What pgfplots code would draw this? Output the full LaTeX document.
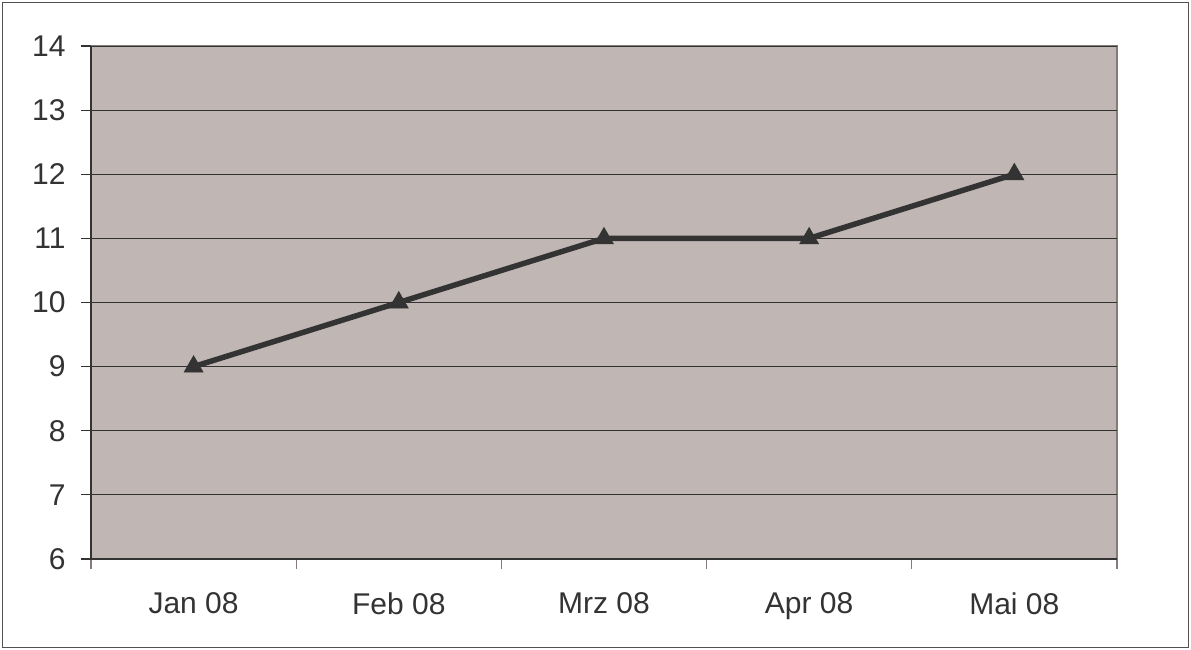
\documentclass[border=0pt]{standalone}
\usepackage{pgfplots}
\pgfplotsset{compat=1.18}
\usepackage{fontspec}
\setmainfont{Liberation Sans}
\definecolor{plotbg}{HTML}{C0B6B3}
\definecolor{bordergray}{HTML}{857B79}
\definecolor{darkline}{HTML}{333333}
\definecolor{txt}{HTML}{333333}
\begin{document}
\begin{tikzpicture}
\useasboundingbox (0,0) rectangle (1191pt,650pt);
\draw[line width=1.5pt, color=darkline!85] (2.5pt,2.5pt) rectangle (1188.5pt,647.5pt);
\begin{axis}[
  at={(91pt,91pt)}, anchor=south west,
  scale only axis, width=1026pt, height=513pt,
  xmin=0.5, xmax=5.5, ymin=6, ymax=14,
  axis background/.style={fill=plotbg, draw=bordergray, line width=1.5pt},
  axis x line*=bottom, axis y line*=left,
  axis line style={color=darkline, line width=1.2pt, -},
  xtick={1,2,3,4,5},
  xticklabels={Jan 08, Feb 08, Mrz 08, Apr 08, Mai 08},
  minor xtick={0.5,1.5,2.5,3.5,4.5,5.5},
  ytick={6,7,8,9,10,11,12,13,14},
  ymajorgrids, major grid style={color=darkline, line width=1pt},
  tick align=outside,
  major tick length=10pt, minor tick length=10pt,
  x tick style={draw=none},
  minor x tick style={draw=bordergray, line width=1.2pt},
  y tick style={color=darkline, line width=1.2pt},
  /pgf/number format/assume math mode=true,
  tick label style={font=\fontsize{30}{36}\selectfont, color=txt},
  xticklabel style={yshift=-20pt},
  yticklabel style={xshift=-12pt},
  clip=false,
]
\addplot[color=darkline, line width=5.5pt, mark=triangle*, mark size=11pt,
  mark options={fill=darkline, draw=darkline, line width=0.5pt}]
  coordinates {(1,9) (2,10) (3,11) (4,11) (5,12)};
\end{axis}
\end{tikzpicture}
\end{document}
